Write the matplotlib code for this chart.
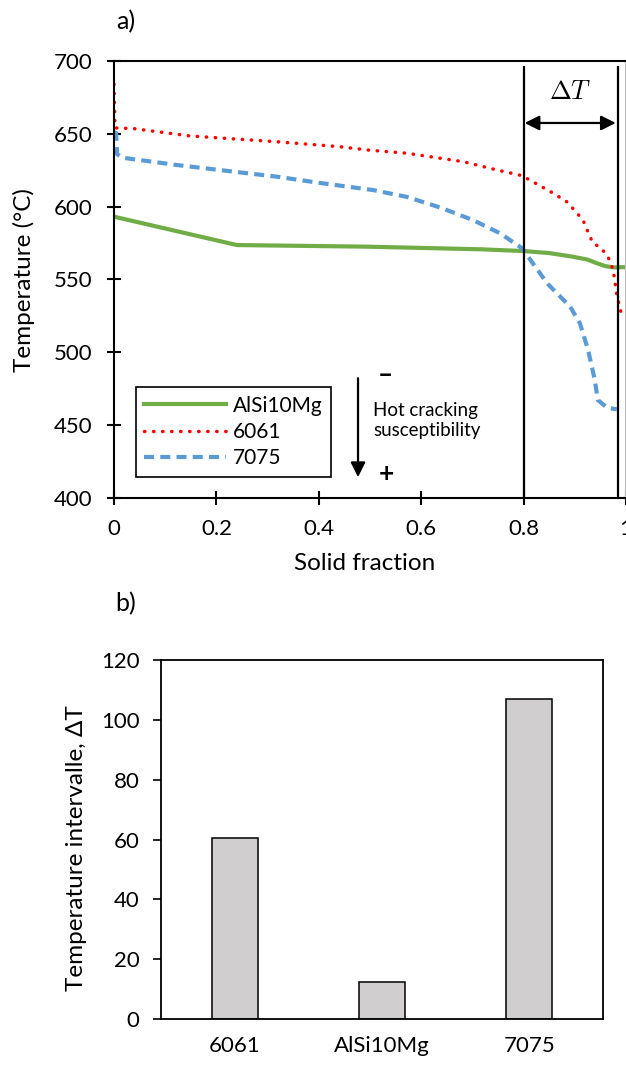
import numpy as np
import matplotlib
matplotlib.use("Agg")
import matplotlib.pyplot as plt

plt.rcParams['font.family'] = ['Lato', 'DejaVu Sans']
plt.rcParams['mathtext.fontset'] = 'cm'

# solidification curves (solid fraction vs temperature)
fs_alsi = [0, 0.24, 0.494, 0.715, 0.799, 0.85, 0.896, 0.925, 0.943, 0.96, 0.975, 1.0]
T_alsi = [593, 573.5, 572.4, 570.6, 569.4, 568, 565.5, 563.5, 561, 559, 558.2, 558.3]

fs_6061 = [0, 0.002, 0.037, 0.148, 0.318, 0.441, 0.496, 0.572, 0.682, 0.748, 0.797,
           0.857, 0.885, 0.916, 0.930, 0.936, 0.949, 0.963, 0.969, 0.975, 0.982, 0.990]
T_6061 = [684, 654, 653.6, 648.5, 644.5, 641.1, 638.8, 636.6, 630.8, 625.1, 621.2,
          609.3, 603.1, 590.7, 579, 574.7, 572, 566.7, 562, 556.4, 539.2, 527.7]

fs_7075 = [0, 0.004, 0.006, 0.017, 0.123, 0.318, 0.402, 0.506, 0.572, 0.637, 0.701,
           0.754, 0.797, 0.846, 0.891, 0.910, 0.926, 0.939, 0.945, 0.963, 0.982]
T_7075 = [651, 650.5, 636, 633.5, 628.5, 620.5, 616.2, 611.3, 606.6, 599.3, 590.7,
          581.6, 571.3, 547.2, 531.1, 519.7, 501.4, 480.8, 467, 461.7, 460.6]

# freezing range bounds shown on the curves
fs_range = [0.8, 0.985]

# temperature intervals
alloys = ['6061', 'AlSi10Mg', '7075']
delta_T = [60.5, 12.5, 107]

green = '#70AD47'
red = '#FF0000'
blue = '#5B9BD5'

fig = plt.figure(figsize=(6.26, 10.66), dpi=100)

# ---- a) cooling curves ----
ax1 = fig.add_axes([114/626, 1 - 497.5/1066, 1 - 114/626, (497.5 - 61)/1066])
ax1.plot(fs_alsi, T_alsi, color=green, lw=3, label='AlSi10Mg')
ax1.plot(fs_6061, T_6061, color=red, lw=2.5, linestyle=(0, (0.1, 2.5)),
         dash_capstyle='round', label='6061')
ax1.plot(fs_7075, T_7075, color=blue, lw=3, linestyle=(0, (2.4, 1.5)), label='7075')

for x in fs_range:
    ax1.axvline(x, ymin=0, ymax=0.987, color='black', lw=1.6)

ax1.annotate('', xy=(fs_range[0] + 0.002, 657.4), xytext=(0.980, 657.4),
             arrowprops=dict(arrowstyle='<|-|>', color='black', lw=1.6,
                             mutation_scale=22, shrinkA=0, shrinkB=0))
ax1.text(0.892, 679, r'$\Delta T$', fontsize=19, ha='center', va='center')

ax1.set_xlim(0, 1)
ax1.set_ylim(400, 700)
ax1.set_xticks([0, 0.2, 0.4, 0.6, 0.8, 1])
ax1.set_xticklabels(['0', '0.2', '0.4', '0.6', '0.8', '1'])
ax1.set_yticks(range(400, 701, 50))
ax1.tick_params(direction='inout', length=9.5, width=1.5, labelsize=16, pad=11)
for s in ax1.spines.values():
    s.set_linewidth(1.5)
ax1.spines['right'].set_color('#BBBBBB')

leg = ax1.legend(loc='lower left', bbox_to_anchor=(0.043, 0.048), borderaxespad=0,
                 fancybox=False, edgecolor='black', framealpha=1, fontsize=15,
                 handlelength=3.9, handletextpad=0.35, labelspacing=0.3, borderpad=0.4)
leg.get_frame().set_linewidth(1.2)

# hot cracking susceptibility arrow
ax1.annotate('', xy=(0.4766, 414), xytext=(0.4766, 482),
             arrowprops=dict(arrowstyle='-|>', color='black', lw=1.6,
                             mutation_scale=22, shrinkA=0, shrinkB=0))
ax1.text(0.530, 484, '–', fontsize=19, fontweight='bold', ha='center', va='center')
ax1.text(0.533, 416, '+', fontsize=19, fontweight='bold', ha='center', va='center')
ax1.text(0.506, 453, 'Hot cracking\nsusceptibility', fontsize=13.5, ha='left',
         va='center', linespacing=1.25)

fig.text(24/626, 1 - 280/1066, 'Temperature (°C)', rotation=90, fontsize=17.5,
         ha='center', va='center')
fig.text(365/626, 1 - 563/1066, 'Solid fraction', fontsize=17.5, ha='center', va='center')
fig.text(126/626, 1 - 22/1066, 'a)', fontsize=18, ha='center', va='center')

# ---- b) temperature intervals ----
ax2 = fig.add_axes([161/626, 1 - 1019/1066, (603 - 161)/626, (1019 - 660)/1066])
ax2.bar(range(len(alloys)), delta_T, width=0.31, color='#D0CECE', edgecolor='black', lw=1.1)
ax2.set_xlim(-0.5, 2.5)
ax2.set_ylim(0, 120)
ax2.set_yticks(range(0, 121, 20))
ax2.set_xticks(range(len(alloys)))
ax2.set_xticklabels(alloys)
ax2.tick_params(axis='y', direction='out', length=5.5, width=1.2, labelsize=16, pad=10)
ax2.tick_params(axis='x', length=0, labelsize=16, pad=12)
for s in ax2.spines.values():
    s.set_linewidth(1.3)

fig.text(77/626, 1 - 848/1066, 'Temperature intervalle, ΔT', rotation=90, fontsize=17.5,
         ha='center', va='center')
fig.text(126/626, 1 - 604/1066, 'b)', fontsize=18, ha='center', va='center')

fig.savefig('out.png', dpi=100)
